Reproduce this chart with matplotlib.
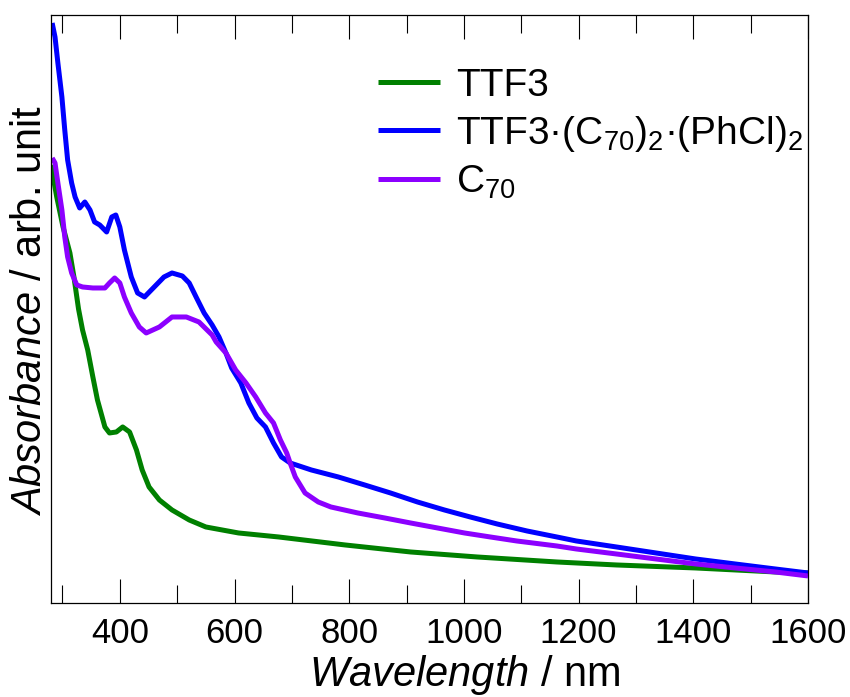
import matplotlib
matplotlib.use("Agg")
import matplotlib.pyplot as plt
from matplotlib.ticker import MultipleLocator

plt.rcParams["font.family"] = ["Liberation Sans", "DejaVu Sans"]
plt.rcParams["mathtext.fontset"] = "custom"
plt.rcParams["mathtext.rm"] = "Liberation Sans"
plt.rcParams["mathtext.it"] = "Liberation Sans:italic"

# TTF3 (green)
ttf3_nm = [280, 290, 301, 313, 320, 328, 335, 344, 353, 361, 374, 382, 394, 405,
           417, 429, 439, 451, 469, 491, 521, 550, 607, 677, 793, 907, 1023, 1162,
           1266, 1404, 1543, 1600]
ttf3_abs = [4.38, 4.06, 3.76, 3.50, 3.26, 2.94, 2.73, 2.53, 2.26, 2.03, 1.76, 1.70,
            1.71, 1.76, 1.71, 1.53, 1.33, 1.16, 1.03, 0.93, 0.83, 0.76, 0.70, 0.66,
            0.58, 0.51, 0.46, 0.41, 0.38, 0.35, 0.31, 0.30]

# TTF3·(C70)2·(PhCl)2 (blue)
complex_nm = [282, 287, 292, 299, 304, 309, 316, 322, 330, 339, 348, 356, 365, 377,
              386, 393, 400, 408, 420, 431, 443, 460, 477, 491, 509, 521, 533, 547,
              561, 573, 585, 595, 611, 625, 639, 654, 668, 682, 697, 734, 781, 827,
              872, 919, 966, 1011, 1058, 1110, 1162, 1196, 1266, 1335, 1404, 1473,
              1543, 1600]
complex_abs = [5.80, 5.66, 5.40, 5.06, 4.73, 4.43, 4.20, 4.06, 3.95, 4.01, 3.93, 3.81,
               3.78, 3.71, 3.86, 3.88, 3.76, 3.53, 3.26, 3.10, 3.06, 3.16, 3.26, 3.30,
               3.27, 3.20, 3.06, 2.90, 2.78, 2.66, 2.50, 2.35, 2.20, 2.00, 1.85, 1.76,
               1.60, 1.46, 1.40, 1.33, 1.26, 1.18, 1.10, 1.01, 0.93, 0.86, 0.79, 0.72,
               0.66, 0.62, 0.56, 0.50, 0.44, 0.39, 0.34, 0.30]

# C70 (purple)
c70_nm = [282, 287, 292, 299, 304, 309, 316, 325, 335, 353, 374, 382, 391, 400, 408,
          420, 434, 446, 469, 491, 516, 538, 561, 568, 585, 602, 620, 637, 654, 668,
          680, 691, 697, 706, 723, 746, 768, 815, 862, 907, 954, 1001, 1046, 1092,
          1162, 1196, 1266, 1335, 1404, 1473, 1543, 1600]
c70_abs = [4.45, 4.40, 4.20, 3.93, 3.66, 3.46, 3.30, 3.18, 3.16, 3.15, 3.15, 3.20,
           3.25, 3.20, 3.06, 2.90, 2.76, 2.70, 2.76, 2.86, 2.86, 2.81, 2.68, 2.61,
           2.50, 2.33, 2.20, 2.06, 1.90, 1.80, 1.63, 1.50, 1.40, 1.26, 1.10, 1.01,
           0.96, 0.90, 0.85, 0.80, 0.75, 0.70, 0.66, 0.62, 0.57, 0.54, 0.49, 0.44,
           0.39, 0.35, 0.31, 0.27]

labels = ["TTF3",
          "TTF3\u00b7(C$_{70}$)$_2$\u00b7(PhCl)$_2$",
          "C$_{70}$"]
colors = ["#008000", "#0000ff", "#8c00ff"]


def main() -> None:
    fig = plt.figure(figsize=(8.5, 6.97), dpi=100)
    ax = fig.add_axes([0.06, 0.1349, 0.8906, 0.8436])

    series = [(ttf3_nm, ttf3_abs), (complex_nm, complex_abs), (c70_nm, c70_abs)]
    for (x, y), lab, col in zip(series, labels, colors):
        ax.plot(x, y, color=col, lw=3.6, label=lab, solid_joinstyle="round",
                solid_capstyle="butt")

    ax.set_xlim(280, 1600)
    ax.set_ylim(0, 5.88)
    ax.xaxis.set_major_locator(MultipleLocator(200))
    ax.xaxis.set_minor_locator(MultipleLocator(100))
    ax.tick_params(axis="x", which="both", direction="in", top=True, bottom=True,
                   labelsize=25, pad=10, width=0.8)
    ax.tick_params(axis="x", which="major", length=17)
    ax.tick_params(axis="x", which="minor", length=13)
    ax.set_yticks([])
    for sp in ax.spines.values():
        sp.set_linewidth(0.9)

    fig.text(465 / 850, 0.016, r"$\it{Wavelength}$ / nm", fontsize=30,
             ha="center", va="baseline")
    fig.text(30 / 850, 0.555, r"$\it{Absorbance}$ / arb. unit", fontsize=30,
             ha="center", va="center", rotation=90)

    ax.legend(loc="upper left", bbox_to_anchor=(0.432, 0.91), frameon=False,
              fontsize=28, handlelength=1.6, handletextpad=0.4, labelspacing=0.25,
              borderpad=0, borderaxespad=0)

    fig.savefig("out.png", dpi=100)


if __name__ == "__main__":
    main()
